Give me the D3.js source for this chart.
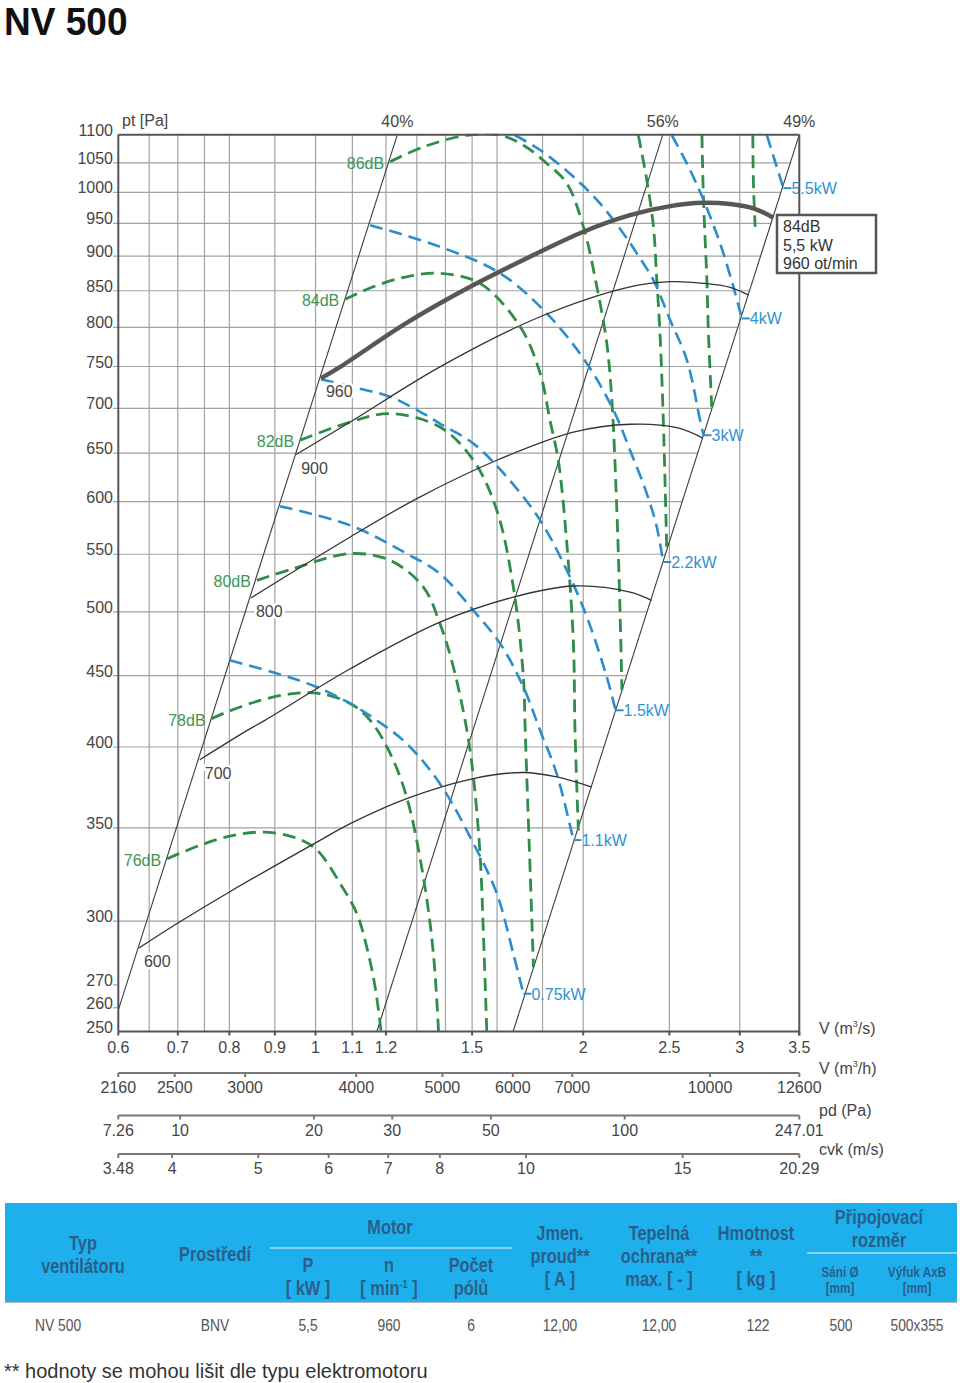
<!DOCTYPE html>
<html><head><meta charset="utf-8"><title>NV 500</title>
<script src="https://cdn.jsdelivr.net/npm/d3@7/dist/d3.min.js"></script>
<style>
html,body{margin:0;padding:0;background:#fff;}
svg{display:block;}
text{font-family:"Liberation Sans",Arial,Helvetica,sans-serif;}
</style></head><body>
<svg id="chart" width="960" height="1383"></svg>
<script>
// ---------------- DATA ----------------
const vTicks = [0.6,0.7,0.8,0.9,1,1.1,1.2,1.5,2,2.5,3,3.5];
const vGrid = [0.65,0.7,0.75,0.8,0.9,1,1.1,1.2,1.3,1.4,1.5,1.6,1.8,2,2.5,3];
const pTicks = [250,260,270,300,350,400,450,500,550,600,650,700,750,800,850,900,950,1000,1050,1100];
const pGrid = [300,350,400,450,500,550,600,650,700,750,800,850,900,950,1000,1050];
const qTicks = [2160,2500,3000,4000,5000,6000,7000,10000,12600];
const pdTicks = [7.26,10,20,30,50,100,247.01];
const cvkTicks = [3.48,4,5,6,7,8,10,15,20.29];

// efficiency (system) lines, endpoints [V m3/s, pt Pa]
const eff40 = [[0.6,259],[1.236,1100]];
const eff56 = [[1.172,250],[2.458,1100]];
const eff49 = [[1.668,250],[3.5,1100]];
const effLabels = ["40%","56%","49%"];

// fan speed curves [V, pt]
const n600 = [[0.633,287],[0.698,298.7],[0.8,314.8],[1.0,341.4],[1.094,352.4],[1.266,367.3],[1.505,379.7],[1.713,383.5],[1.867,380.7],[2.045,374.4]];
const n700 = [[0.741,391.7],[0.837,411],[0.877,418],[1.094,455.2],[1.38,491.6],[1.669,512.4],[1.95,521.9],[2.258,516.7],[2.389,509.6]];
const n800 = [[0.846,511.7],[1.094,565.9],[1.3,603],[1.599,642.4],[1.95,673],[2.258,681.8],[2.549,678],[2.727,666.4]];
const n900 = [[0.951,648.5],[1.094,684.3],[1.38,749.6],[1.789,814.3],[2.258,855.6],[2.505,862.8],[2.731,860.5],[2.926,854.8],[3.068,844]];
const n960 = [[1.014,735.5],[1.066,749.6],[1.266,806],[1.505,858],[1.789,906.5],[2.001,937],[2.258,963],[2.505,977.6],[2.731,983],[2.926,981],[3.108,974],[3.273,959]];
const speedNames = ["600","700","800","900","960"];

// noise curves [V, pt]
const db76 = [[0.681,332.6],[0.741,340],[0.808,345.7],[0.874,347.5],[0.944,344.7],[1.0,338.2],[1.066,319.2],[1.113,303.7],[1.142,287.3],[1.167,268.9],[1.185,250]];
const db78 = [[0.764,419.2],[0.795,423.8],[0.866,432],[0.944,436.9],[1.012,436.9],[1.094,429.8],[1.152,418],[1.213,395.8],[1.266,368.3],[1.322,322.7],[1.357,284.2],[1.375,250]];
const db80 = [[0.859,526.8],[0.944,537.1],[1.094,550.6],[1.213,544.5],[1.322,521],[1.38,490.5],[1.429,456.4],[1.48,411],[1.505,380.7],[1.531,335.4],[1.545,292],[1.558,250]];
const db82 = [[0.961,664.1],[1.094,684.3],[1.213,693.9],[1.38,678.6],[1.505,642.4],[1.599,591.5],[1.669,521],[1.713,449],[1.721,411],[1.751,300.4],[1.758,278]];
const db84 = [[1.08,838],[1.161,855.6],[1.266,869.9],[1.38,874.8],[1.531,860.4],[1.699,800.9],[1.789,741.5],[1.835,686.2],[1.875,642.4],[1.917,559.8],[1.95,474.5],[1.958,411],[1.975,348.5]];
const db86 = [[1.213,1051.9],[1.322,1078],[1.48,1099],[1.613,1099],[1.713,1081],[1.82,1049],[1.917,1015],[2.001,944.7],[2.072,855.6],[2.126,779.2],[2.154,709.4],[2.182,591.5],[2.2,501.2],[2.211,439.3]];
const db88 = [[2.307,1099],[2.358,1020.5],[2.399,944.7],[2.42,865],[2.44,792.2],[2.461,686.2],[2.483,555]];
const db90 = [[2.72,1099],[2.731,987.4],[2.755,865],[2.766,792.2],[2.79,701.6]];
const db92 = [[3.103,1099],[3.108,1015],[3.122,944.7]];
const dbNames = ["76dB","78dB","80dB","82dB","84dB","86dB","","",""];

// power curves [V, pt]
const kw075 = [[0.801,461.6],[0.905,451.6],[1.003,441.7],[1.094,429.8],[1.172,418],[1.266,402.3],[1.38,376.5],[1.505,341.1],[1.599,314],[1.669,284.2],[1.713,266.1]];
const kw11 = [[0.912,595.5],[1.094,576.9],[1.266,550.6],[1.38,532.6],[1.505,501.2],[1.613,474.5],[1.713,441.7],[1.789,411],[1.867,382.8],[1.95,343]];
const kw15 = [[1.014,734.3],[1.117,723.4],[1.213,713.5],[1.322,693.9],[1.38,682.6],[1.505,660.3],[1.641,624.9],[1.789,581.7],[1.917,535.6],[2.019,495.9],[2.126,449],[2.175,425]];
const kw22 = [[1.152,947.3],[1.38,914.2],[1.613,874.8],[1.82,818.8],[2.019,753.8],[2.163,697.8],[2.258,653.1],[2.358,608],[2.42,575.2],[2.46,543]];
const kw3 = [[1.676,1099],[1.789,1072.5],[1.95,1026.1],[2.089,982],[2.219,934.5],[2.298,904.2],[2.399,865],[2.505,809.8],[2.616,758],[2.707,686.2],[2.731,669.5]];
const kw4 = [[2.516,1099],[2.616,1049],[2.731,987.4],[2.851,919.1],[2.951,855.6],[3.016,812]];
const kw55 = [[3.218,1099],[3.302,1043],[3.359,1007]];
const kwNames = ["0.75kW","1.1kW","1.5kW","2.2kW","3kW","4kW","5.5kW"];

const boxLines = ["84dB","5,5 kW","960 ot/min"];

// table
const headCols = [["Typ","ventilátoru"],["Prostředí"],["P","[ kW ]"],["n","[ min|-1| ]"],["Počet","pólů"],["Jmen.","proud**","[ A ]"],["Tepelná","ochrana**","max. [ - ]"],["Hmotnost","**","[ kg ]"],["Sání Ø","[mm]"],["Výfuk AxB","[mm]"]];
const groupHeads = ["Motor",["Připojovací","rozměr"]];
const rowValues = ["NV 500","BNV","5,5","960","6","12,00","12,00","122","500","500x355"];
const footnote = "** hodnoty se mohou lišit dle typu elektromotoru";

// ---------------- DRAW ----------------
const svg = d3.select("#chart");
const x = d3.scaleLog().domain([0.6,3.5]).range([118.3,799.3]);
const y = d3.scaleLog().domain([250,1100]).range([1031.5,134.7]);
const xq = d3.scaleLog().domain([2160,12600]).range(x.range());
const xpd = d3.scaleLog().domain([7.26,247.01]).range(x.range());
const xc = d3.scaleLog().domain([3.48,20.29]).range(x.range());

const GRID="#a2a2a2", AX="#555", TXT="#454545";
const GREEN="#2f8c49", BLUE="#2b8dcc", GTXT="#3d9655", BTXT="#2f92d2";

function vOnLine(pts,p){
  const [a,b]=pts;
  const t=(Math.log(p)-Math.log(a[1]))/(Math.log(b[1])-Math.log(a[1]));
  return Math.exp(Math.log(a[0])+t*(Math.log(b[0])-Math.log(a[0])));
}

svg.append("defs").append("clipPath").attr("id","clip").append("rect")
  .attr("x",x(0.6)).attr("y",y(1100)-1).attr("width",x(3.5)-x(0.6)).attr("height",y(250)-y(1100)+1);

// title
svg.append("text").attr("transform","translate(4,35) scale(0.95,1)").attr("font-size",39).attr("font-weight","bold")
  .attr("fill","#111").text("NV 500");

const g = svg.append("g");

// vertical grid
g.selectAll(null).data(vGrid).join("line")
  .attr("x1",d=>x(d)).attr("x2",d=>x(d)).attr("y1",y(250)).attr("y2",y(1100))
  .attr("stroke",GRID).attr("stroke-width",1.2);
// horizontal grid
g.selectAll(null).data(pGrid).join("line")
  .attr("x1",113).attr("x2",d=>x(vOnLine(eff49,d))).attr("y1",d=>y(d)).attr("y2",d=>y(d))
  .attr("stroke",GRID).attr("stroke-width",1.2);
// small ticks 260/270
g.selectAll(null).data([260,270]).join("line")
  .attr("x1",113).attr("x2",x(0.6)).attr("y1",d=>y(d)).attr("y2",d=>y(d))
  .attr("stroke",GRID).attr("stroke-width",1.2);

// y tick labels
g.selectAll(null).data(pTicks).join("text")
  .attr("x",113).attr("y",d=>y(d)+1).attr("text-anchor","end").attr("font-size",16)
  .attr("fill",TXT).text(d=>d);
svg.append("text").attr("x",122).attr("y",126).attr("font-size",16).attr("fill",TXT).text("pt [Pa]");

// efficiency lines
const effs=[eff40,eff56,eff49];
g.selectAll(null).data(effs).join("line")
  .attr("x1",d=>x(d[0][0])).attr("y1",d=>y(d[0][1])).attr("x2",d=>x(d[1][0])).attr("y2",d=>y(d[1][1]))
  .attr("stroke","#3c3c3c").attr("stroke-width",1.1);
g.selectAll(null).data(effs).join("text")
  .attr("x",d=>x(d[1][0])).attr("y",127).attr("text-anchor","middle").attr("font-size",16)
  .attr("fill",TXT).text((d,i)=>effLabels[i]);

const line = d3.line().x(d=>x(d[0])).y(d=>y(d[1])).curve(d3.curveCatmullRom.alpha(0.5));
const curves = svg.append("g").attr("clip-path","url(#clip)");

// noise curves
const dbs=[db76,db78,db80,db82,db84,db86,db88,db90,db92];
curves.selectAll(null).data(dbs).join("path").attr("d",line).attr("fill","none")
  .attr("stroke",GREEN).attr("stroke-width",2.8).attr("stroke-dasharray","13,7");
// power curves
const kws=[kw075,kw11,kw15,kw22,kw3,kw4,kw55];
curves.selectAll(null).data(kws).join("path").attr("d",line).attr("fill","none")
  .attr("stroke",BLUE).attr("stroke-width",2.6).attr("stroke-dasharray","13,7");
// speed curves
const speeds=[n600,n700,n800,n900,n960];
curves.selectAll(null).data(speeds).join("path").attr("d",line).attr("fill","none")
  .attr("stroke",(d,i)=>i===4?"#575757":"#333").attr("stroke-width",(d,i)=>i===4?4.5:1.3);

// speed labels
svg.selectAll(null).data(speeds).join("text")
  .attr("x",d=>x(d[0][0])+5).attr("y",d=>y(d[0][1])+19).attr("font-size",16).attr("fill",TXT)
  .attr("stroke","#fff").attr("stroke-width",5).attr("paint-order","stroke")
  .text((d,i)=>speedNames[i]);

// dB labels
svg.selectAll(null).data(dbs.filter((d,i)=>dbNames[i])).join("text")
  .attr("x",d=>x(d[0][0])-6).attr("y",d=>y(d[0][1])+7).attr("text-anchor","end")
  .attr("font-size",16).attr("fill",GTXT).text((d,i)=>dbNames[i]);

// kW labels
kws.forEach((d,i)=>{
  const e=d[d.length-1], ex=x(e[0]), ey=y(e[1]);
  svg.append("line").attr("x1",ex).attr("x2",ex+8).attr("y1",ey).attr("y2",ey)
    .attr("stroke",BLUE).attr("stroke-width",2);
  svg.append("text").attr("x",ex+8).attr("y",ey+6).attr("font-size",16).attr("fill",BTXT).text(kwNames[i]);
});

// frame
const fr = svg.append("g").attr("stroke",AX).attr("stroke-width",2);
fr.append("line").attr("x1",x(0.6)).attr("x2",x(0.6)).attr("y1",y(250)).attr("y2",y(1100));
fr.append("line").attr("x1",x(3.5)).attr("x2",x(3.5)).attr("y1",y(250)+4).attr("y2",y(1100));
fr.append("line").attr("x1",x(0.6)).attr("x2",x(3.5)).attr("y1",y(1100)).attr("y2",y(1100));
fr.append("line").attr("x1",x(0.6)).attr("x2",x(3.5)).attr("y1",y(250)).attr("y2",y(250));
fr.selectAll(null).data(vTicks).join("line").attr("x1",d=>x(d)).attr("x2",d=>x(d))
  .attr("y1",y(250)).attr("y2",y(250)+4);
svg.selectAll(null).data(vTicks).join("text").attr("x",d=>x(d)).attr("y",1053)
  .attr("text-anchor","middle").attr("font-size",16).attr("fill",TXT).text(d=>d);

// box (on top of frame)
svg.append("rect").attr("x",777).attr("y",215).attr("width",99).attr("height",58)
  .attr("fill","#fff").attr("stroke","#555").attr("stroke-width",2.5);
svg.selectAll(null).data(boxLines).join("text").attr("x",783).attr("y",(d,i)=>232+i*18.5)
  .attr("font-size",16).attr("fill","#333").text(d=>d);

// secondary axes
function secAxis(scale,ticks,ly){
  const a=svg.append("g");
  a.append("line").attr("x1",x(0.6)).attr("x2",x(3.5)).attr("y1",ly).attr("y2",ly)
    .attr("stroke","#777").attr("stroke-width",2);
  a.selectAll(null).data(ticks).join("line").attr("x1",d=>scale(d)).attr("x2",d=>scale(d))
    .attr("y1",ly).attr("y2",ly+4).attr("stroke","#777").attr("stroke-width",2);
  a.selectAll(null).data(ticks).join("text").attr("x",d=>scale(d)).attr("y",ly+20)
    .attr("text-anchor","middle").attr("font-size",16).attr("fill",TXT).text(d=>d);
}
secAxis(xq,qTicks,1073);
secAxis(xpd,pdTicks,1115.5);
secAxis(xc,cvkTicks,1154);

function unitLabel(yb,parts){
  const t=svg.append("text").attr("x",819).attr("y",yb).attr("font-size",16).attr("fill",TXT);
  parts.forEach(p=>{
    if(p.sup) t.append("tspan").attr("font-size",9).attr("dy",-7).text(p.t);
    else t.append("tspan").attr("dy",p.down?7:0).text(p.t);
  });
}
unitLabel(1034,[{t:"V (m"},{t:"3",sup:true},{t:"/s)",down:true}]);
unitLabel(1074,[{t:"V (m"},{t:"3",sup:true},{t:"/h)",down:true}]);
unitLabel(1116,[{t:"pd (Pa)"}]);
unitLabel(1155,[{t:"cvk (m/s)"}]);

// ---------------- TABLE ----------------
const HC = "#2a5f8a";
const SX = 0.84;
svg.append("rect").attr("x",5).attr("y",1203).attr("width",952).attr("height",99).attr("fill","#1eb0ec");
svg.append("line").attr("x1",5).attr("x2",957).attr("y1",1302).attr("y2",1302).attr("stroke","#8a9aa5").attr("stroke-width",1.5);
function condText(cx,cy,size,bold,fill){
  return svg.append("text").attr("transform",`translate(${cx},${cy}) scale(${SX},1)`)
    .attr("text-anchor","middle").attr("font-weight",bold?"bold":"normal").attr("font-size",size).attr("fill",fill);
}
const colX=[83,215,308,389,471,560,659,756,840,917];
const colY=[[1250,1273],[1261],[1272,1295],[1272,1295],[1272,1295],[1240,1263,1286],[1240,1263,1286],[1240,1263,1286],[1277,1293],[1277,1293]];
headCols.forEach((lines,i)=>{
  lines.forEach((ln,j)=>{
    const small = i>=8;
    const t=condText(colX[i],colY[i][j],small?14:19.5,true,HC);
    const parts=ln.split("|");
    if(parts.length===3){
      t.append("tspan").text(parts[0]);
      t.append("tspan").attr("font-size",11).attr("dy",-7).text(parts[1]);
      t.append("tspan").attr("dy",7).text(parts[2]);
    } else t.text(ln);
  });
});
condText(390,1234,19.5,true,HC).text(groupHeads[0]);
svg.append("line").attr("x1",270).attr("x2",512).attr("y1",1248).attr("y2",1248).attr("stroke","#e8f6fc").attr("stroke-width",1.2);
groupHeads[1].forEach((ln,j)=>condText(879,1224+j*23,19.5,true,HC).text(ln));
svg.append("line").attr("x1",807).attr("x2",957).attr("y1",1253).attr("y2",1253).attr("stroke","#e8f6fc").attr("stroke-width",1.2);
const rowX=[58,215,308,389,471,560,659,758,841,917];
rowValues.forEach((v,i)=>condText(rowX[i],1331,16.5,false,"#555").text(v));
svg.append("text").attr("x",4).attr("y",1378).attr("font-size",20).attr("fill","#333").text(footnote);
</script></body></html>
